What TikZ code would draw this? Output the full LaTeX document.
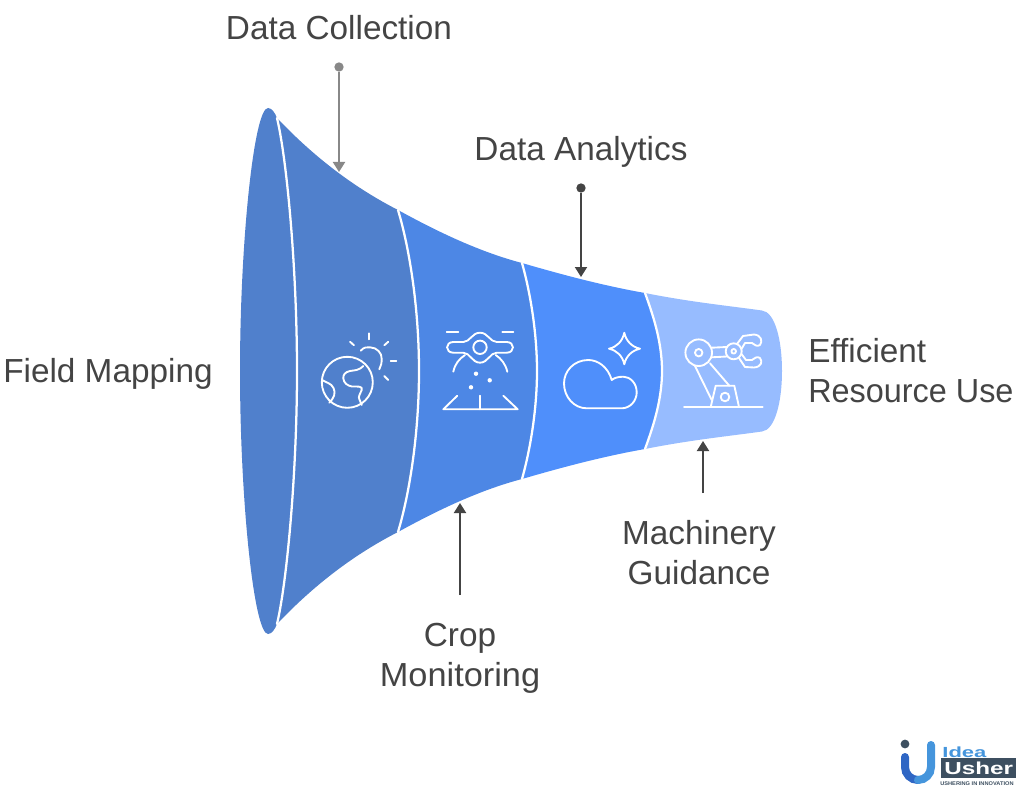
\documentclass[tikz,border=0pt]{standalone}
\usepackage{fontspec}
\usepackage{graphicx}
\setmainfont{Liberation Sans}
\usetikzlibrary{arrows.meta}
\definecolor{segA}{HTML}{5080CC}
\definecolor{segB}{HTML}{4D87E5}
\definecolor{segC}{HTML}{4F8FFB}
\definecolor{segD}{HTML}{97BCFF}
\definecolor{ink}{HTML}{444444}
\definecolor{greyink}{HTML}{888888}
\definecolor{slate}{HTML}{3D4F60}
\definecolor{logoA}{HTML}{2F66C4}
\definecolor{logoB}{HTML}{4595DC}
\tikzset{
  lab/.style={text=ink,font=\fontsize{25}{30}\selectfont,align=center,inner sep=0pt},
  labl/.style={lab,align=left},
  sep/.style={draw=white,line width=1.7pt,line cap=round},
  icon/.style={draw=white,line width=1.4pt,line cap=round,line join=round},
  conn/.style={draw=ink,line width=1.5pt,-{Triangle[length=7.5pt,width=9pt]}},
  conng/.style={draw=greyink,line width=1.5pt,-{Triangle[length=7.5pt,width=9pt]}},
  dotdark/.style={circle,fill=ink,inner sep=0pt,minimum size=7pt},
  dotgrey/.style={circle,fill=greyink,inner sep=0pt,minimum size=7pt},
}
\begin{document}
\begin{tikzpicture}[x=0.75pt,y=-0.75pt]
\useasboundingbox (0,0) rectangle (1024,788);
% funnel segments, right to left
\fill[segD] (645,293) .. controls (690,302) and (730,306) .. (762,310.5)
  .. controls (775,312) and (782,340) .. (782,371)
  .. controls (782,402) and (775,430) .. (762,431.5)
  .. controls (730,436) and (690,440) .. (645,449) -- cycle;
\fill[segC] (522,263) .. controls (563,275) and (605,286) .. (645,293)
  .. controls (655,320) and (662,345) .. (662,371)
  .. controls (662,397) and (655,422) .. (645,449)
  .. controls (605,456) and (563,467) .. (522,479) -- cycle;
\fill[segB] (398,210) .. controls (438,232) and (480,252) .. (522,263)
  .. controls (531,295) and (537,335) .. (537,371)
  .. controls (537,407) and (531,447) .. (522,479)
  .. controls (480,490) and (438,510) .. (398,532) -- cycle;
\fill[segA] (277,118) .. controls (315,158) and (355,188) .. (398,210)
  .. controls (410,250) and (419,310) .. (419,371)
  .. controls (419,432) and (410,492) .. (398,532)
  .. controls (355,554) and (315,584) .. (277,624) -- cycle;
\fill[segA] (268,108) .. controls (272,108) and (275,113) .. (277,118)
  .. controls (287,160) and (297,270) .. (297,371)
  .. controls (297,472) and (287,582) .. (277,624)
  .. controls (275,629) and (272,634) .. (268,634)
  .. controls (254,634) and (240,500) .. (240,371)
  .. controls (240,242) and (254,108) .. (268,108) -- cycle;
% separators
\draw[sep] (277,118) .. controls (287,160) and (297,270) .. (297,371)
  .. controls (297,472) and (287,582) .. (277,624);
\draw[sep] (398,210) .. controls (410,250) and (419,310) .. (419,371)
  .. controls (419,432) and (410,492) .. (398,532);
\draw[sep] (522,263) .. controls (531,295) and (537,335) .. (537,371)
  .. controls (537,407) and (531,447) .. (522,479);
\draw[sep] (645,293) .. controls (655,320) and (662,345) .. (662,371)
  .. controls (662,397) and (655,422) .. (645,449);
% globe icon
\draw[icon] (347.3,382.3) circle (25.5);
\draw[icon] (360.7,350.7) .. controls (364,347) and (367,347) .. (370,347.3)
  .. controls (377,347.5) and (382,353) .. (381.7,359) .. controls (381.7,363) and (381,366) .. (379.3,369.3);
\draw[icon] (369,333.3) -- (369,339.3);
\draw[icon] (350,341.7) -- (354,345.3);
\draw[icon] (388.3,341.7) -- (384.3,345.3);
\draw[icon] (390.7,360.7) -- (396.3,360.7);
\draw[icon] (384.3,376) -- (388.3,380);
\draw[icon] (363.3,366) .. controls (358,371) and (355,370) .. (350,371)
  .. controls (345,372) and (343,375) .. (343.3,378.3)
  .. controls (343.5,383) and (348,386) .. (352,386.5)
  .. controls (358,386.5) and (363,386) .. (361.7,390)
  .. controls (360,394) and (358,397) .. (359.3,399) .. controls (360,401) and (361,403) .. (361.7,405);
\draw[icon] (322,380) .. controls (327,383) and (331,383) .. (333.5,388)
  .. controls (336,393) and (334,398) .. (329.3,402.7);
% drone icon
\draw[icon] (453.3,342) -- (463.3,342) .. controls (470,342) and (472,332.7) .. (480,332.7)
  .. controls (488,332.7) and (490,342) .. (496.7,342) -- (506.7,342)
  .. controls (515,342) and (515,352.7) .. (506.7,352.7) -- (496.7,352.7)
  .. controls (490,352.7) and (488,362.7) .. (480,362.7)
  .. controls (472,362.7) and (470,352.7) .. (463.3,352.7) -- (453.3,352.7)
  .. controls (445,352.7) and (445,342) .. (453.3,342) -- cycle;
\draw[icon] (480,347.3) circle (6.7);
\draw[icon] (446.7,332) -- (458.3,332);
\draw[icon] (502.3,332) -- (513.3,332);
\draw[icon] (453.3,371.7) .. controls (455,364) and (459,359) .. (465,355);
\draw[icon] (507.3,371.7) .. controls (505.5,364) and (501.5,359) .. (495.7,355);
\fill[white] (476,373.7) circle (2.2) (489.7,380.3) circle (2.2) (471,387.3) circle (2.2);
\draw[icon] (457.3,395.7) -- (443.3,409.3) -- (517.7,409.3) -- (503.3,395.7);
\draw[icon] (480,395.7) -- (480,409.3);
% cloud icon
\draw[icon] (611.7,380) .. controls (608,367) and (598,360) .. (588.3,360)
  .. controls (574,360) and (564,371) .. (564,383.3)
  .. controls (564,397) and (574,408.3) .. (586.7,408.3) -- (621.7,408.3)
  .. controls (630,408.3) and (636.7,401) .. (636.7,392.3)
  .. controls (636.7,383) and (630,376.7) .. (623.3,376.7)
  .. controls (618,376.7) and (614,378) .. (611.7,380) -- cycle;
\draw[icon] (624.3,332.7) .. controls (626,341) and (632,347) .. (640,348.7)
  .. controls (632,350.5) and (626,356) .. (624.3,364.3)
  .. controls (622.5,356) and (617,350.5) .. (609,348.7)
  .. controls (617,347) and (622.5,341) .. (624.3,332.7) -- cycle;
% robot icon
\draw[icon] (684,407) -- (762.7,407);
\draw[icon] (710.7,407) -- (715.7,385.7) -- (734.3,385.7) -- (739,407);
\draw[icon] (725,397) circle (4.3);
\draw[icon] (695,366) -- (711.7,400);
\draw[icon] (710,363.3) -- (729.3,385.7);
\draw[icon] (698.7,352.7) circle (13.3);
\draw[icon] (698.7,352.7) circle (3.7);
\draw[icon] (711.7,347.7) -- (726.7,347);
\draw[icon] (711.7,357.3) -- (726.7,356.5);
\draw[icon] (733.7,351.3) circle (8);
\draw[icon] (733.7,351.3) circle (2.3);
\draw[icon] (737,344) -- (743,336) -- (754,334.5) .. controls (761,335) and (763,341) .. (760,345) .. controls (757,347) and (755,345) .. (752,343) -- (745,343) -- (741.5,349);
\draw[icon] (739,358) -- (745,367) -- (754,367.5) .. controls (761,367) and (763,362) .. (760,358) .. controls (757,356) and (755,358) .. (752,360) -- (746,360) -- (741.5,354);
% labels
\node[lab] (collection) at (339,28) {Data Collection};
\node[lab] (analytics) at (581,152) {Data Analytics};
\node[labl,anchor=west] (mapping) at (3,374) {Field Mapping};
\node[lab] (monitoring) at (460,658) {Crop\\\scalebox{1.03}[1]{Monitoring}};
\node[lab] (machinery) at (699,553) {Machinery\\Guidance};
\node[labl,anchor=west] (resource) at (808,371) {Efficient\\\scalebox{0.972}[1]{Resource Use}};
% connectors
\node[dotgrey] (dc) at (339,67) {};
\coordinate (dcEnd) at (339,172);
\draw[conng] (dc) -- (dcEnd);
\node[dotdark] (da) at (581,188) {};
\coordinate (daEnd) at (581,277);
\draw[conn] (da) -- (daEnd);
\coordinate (cmStart) at (460,595);
\coordinate (cmEnd) at (460,503);
\draw[conn] (cmStart) -- (cmEnd);
\coordinate (mgStart) at (703,493);
\coordinate (mgEnd) at (703,441);
\draw[conn] (mgStart) -- (mgEnd);
% logo
\fill[slate] (905,744) circle (4.4);
\draw[logoA,line width=6pt,line cap=round] (905,757) -- (905,767) .. controls (905,774.2) and (910.8,780) .. (918,780);
\draw[logoB,line width=6pt,line cap=round] (931,745) -- (931,767) .. controls (931,774.2) and (925.2,780) .. (918,780);
\node[inner sep=0pt,text=logoB,font=\bfseries\fontsize{11}{12}\selectfont,xscale=1.5,anchor=west] (idea) at (942,752) {Idea};
\node[fill=slate,minimum width=56.5pt,minimum height=14.5pt,inner sep=0pt,anchor=west] (usherbox) at (940.7,768) {};
\node[inner sep=0pt,text=white,font=\bfseries\fontsize{13}{14}\selectfont,xscale=1.4] (usher) at (usherbox.center) {Usher};
\node[inner sep=0pt,text=slate,font=\bfseries\fontsize{4}{5}\selectfont,xscale=1.06,anchor=west] (tag) at (940,783.3) {USHERING IN INNOVATION};
\end{tikzpicture}
\end{document}
